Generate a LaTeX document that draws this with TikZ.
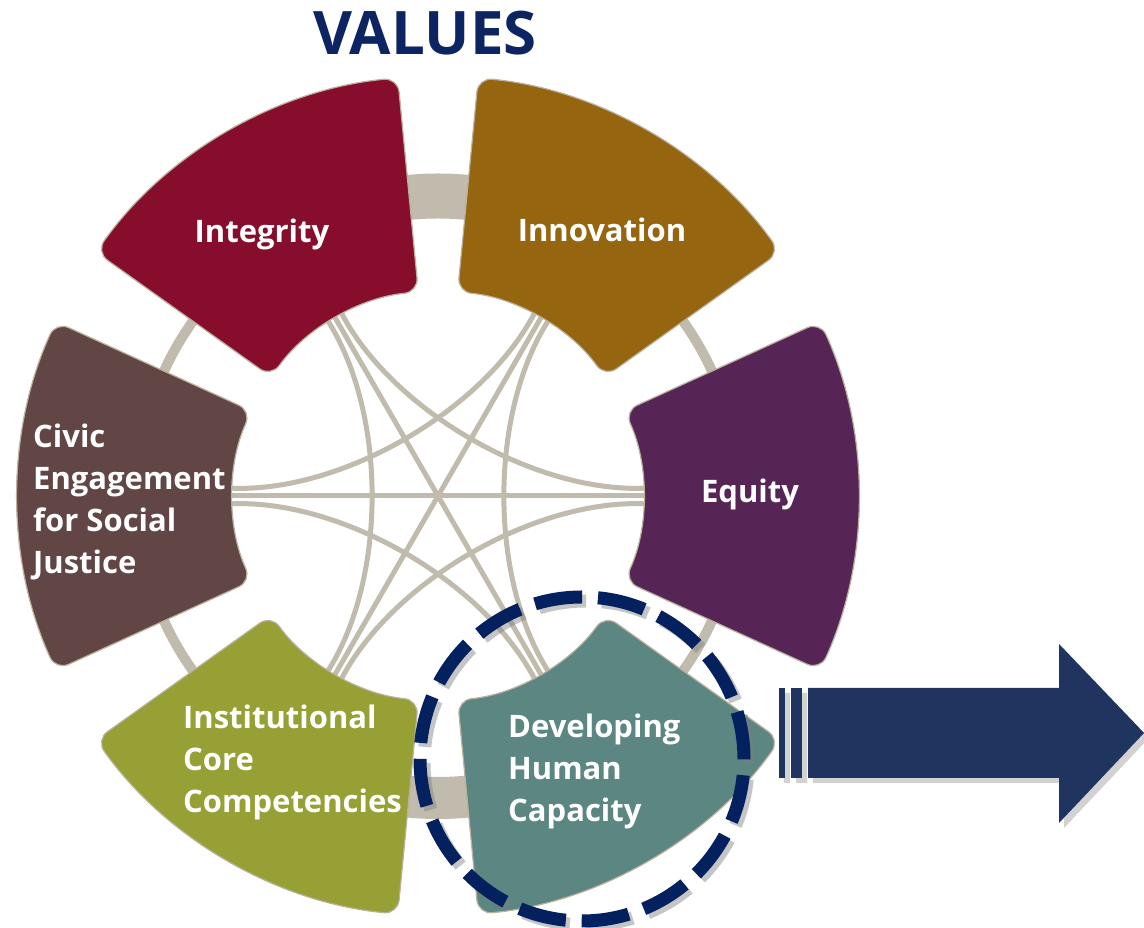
\documentclass[tikz,border=0pt]{standalone}
\usepackage{fontspec}
\setmainfont{Open Sans}
\newfontfamily\titlefont{Open Sans}
\usepackage{tikz}
\usetikzlibrary{arrows.meta, positioning, calc}
\usepackage{xcolor}

\definecolor{integrityred}{RGB}{134,14,44}
\definecolor{innovgold}{RGB}{150,101,16}
\definecolor{equitypurple}{RGB}{86,37,85}
\definecolor{devteal}{RGB}{91,134,129}
\definecolor{instgreen}{RGB}{150,160,53}
\definecolor{civicbrown}{RGB}{98,69,69}
\definecolor{linkgray}{RGB}{192,187,173}
\definecolor{edgetan}{RGB}{186,176,156}
\definecolor{focusnavy}{RGB}{2,33,94}
\definecolor{arrownavy}{RGB}{31,53,96}
\definecolor{titlenavy}{RGB}{12,36,97}

\tikzset{
  sector/.style={draw=edgetan, line width=1.2pt, rounded corners=14pt},
  link/.style={draw=linkgray, line width=5pt},
  ring/.style={draw=linkgray, line width=10pt},
  label/.style={text=white, inner sep=0pt, font=\bfseries\fontsize{31}{42}\selectfont, align=left},
  focusline/.style={line width=13pt, dash pattern=on 47.7pt off 15.9pt},
}

\begin{document}
\begin{tikzpicture}[x=1pt, y=1pt]
  \useasboundingbox (0,0) rectangle (1144,928);
  \fill[white] (0,0) rectangle (1144,928);

  \begin{scope}[shift={(438,432)}]
    \draw[ring] (0,0) circle[radius=301];
    \draw[ring, line width=45pt] (82:300) arc[start angle=82, end angle=98, radius=300];
    \draw[ring, line width=42pt] (262:302) arc[start angle=262, end angle=278, radius=302];
    \foreach \ang/\name in {0/equity, 60/innovation, 120/integrity, 180/civic, 240/institutional, 300/developing} {
      \coordinate (\name) at (\ang:215);
      \coordinate (\name-l) at (\ang+2.2:213);
      \coordinate (\name-r) at (\ang-2.2:213);
      \coordinate (\name-c) at (\ang:100);
    }
  \end{scope}

  \draw[link] (civic) -- (equity);
  \draw[link] (integrity) -- (developing);
  \draw[link] (innovation) -- (institutional);
  \draw[link] (equity-l) .. controls (equity-c) and (integrity-c) .. (integrity-r);
  \draw[link] (innovation-l) .. controls (innovation-c) and (civic-c) .. (civic-r);
  \draw[link] (integrity-l) .. controls (integrity-c) and (institutional-c) .. (institutional-r);
  \draw[link] (civic-l) .. controls (civic-c) and (developing-c) .. (developing-r);
  \draw[link] (institutional-l) .. controls (institutional-c) and (equity-c) .. (equity-r);
  \draw[link] (developing-l) .. controls (developing-c) and (innovation-c) .. (innovation-r);

  \begin{scope}[shift={(438,432)}]
    \foreach \ang/\col in {0/equitypurple, 60/innovgold, 120/integrityred, 180/civicbrown, 240/instgreen, 300/devteal}
      \filldraw[sector, fill=\col] (\ang-24.5:310) -- (\ang-24.5:420)
        arc[start angle=\ang-24.5, delta angle=49, radius=420] -- (\ang+24.5:205)
        arc[start angle=\ang+24.5, delta angle=-49, radius=205] -- cycle;
  \end{scope}

  \node[label, anchor=base] (integrity-label) at (262,685) {Integrity};
  \node[label, anchor=base] (innovation-label) at (602,686) {Innovation};
  \node[label, anchor=base] (equity-label) at (750,425) {Equity};
  \node[label, anchor=north west] (civic-label) at (33,504) {Civic\\Engagement\\for Social\\Justice};
  \node[label, anchor=north west] (institutional-label) at (183,223) {Institutional\\Core\\Competencies};
  \node[label, anchor=north west] (developing-label) at (508,214) {Developing\\Human\\Capacity};

  \node[anchor=base, text=titlenavy, inner sep=0pt, font=\titlefont\bfseries\fontsize{60}{60}\selectfont] (title) at (425,873) {VALUES};

  \coordinate (focus) at (582,169);
  \draw[focusline, gray, opacity=0.45] ($(focus)+(4,-4)$) circle[radius=162];
  \draw[focusline, focusnavy] (focus) circle[radius=162];

  \begin{scope}[shift={(5,-5)}]
    \fill[gray, opacity=0.35] (779,150) rectangle (785,240) (791,150) rectangle (802,240);
    \fill[gray, opacity=0.35] (808,150) -- (1059,150) -- (1059,105) -- (1144,195) -- (1059,284) -- (1059,240) -- (808,240) -- cycle;
  \end{scope}
  \fill[arrownavy] (779,150) rectangle (785,240);
  \fill[arrownavy] (791,150) rectangle (802,240);
  \fill[arrownavy] (808,150) -- (1059,150) -- (1059,105) -- (1144,195) -- (1059,284) -- (1059,240) -- (808,240) -- cycle;
\end{tikzpicture}
\end{document}
